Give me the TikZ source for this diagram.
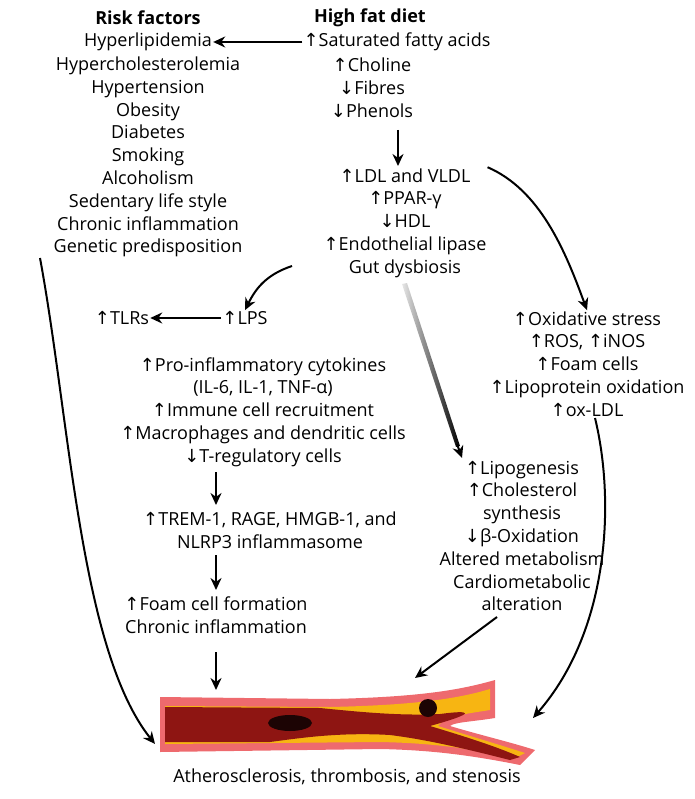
\documentclass[tikz,border=0pt]{standalone}
\usepackage{fontspec}
\setmainfont{Open Sans}
\newfontfamily\arrfont{DejaVu Sans}
\usetikzlibrary{arrows.meta,positioning}
\newcommand{\upa}{{\arrfont ↑}}
\newcommand{\dna}{{\arrfont ↓}}
\definecolor{wallpink}{HTML}{EE6A6E}
\definecolor{lumen}{HTML}{8E1512}
\definecolor{plaque}{HTML}{F7B512}
\tikzset{
  txt/.style={font=\fontsize{18}{22.8}\selectfont, align=center, inner sep=1pt},
  hd/.style={txt, font=\fontsize{18}{22.8}\selectfont\bfseries},
  arr/.style={-{Stealth[length=12pt,width=11pt]}, line width=2pt}
}
\begin{document}
\begin{tikzpicture}[x=1pt, y=-1pt]
\useasboundingbox (0,0) rectangle (694,799);
% artery
\fill[wallpink] (160,697) -- (330,699) .. controls (420,697) and (460,690) .. (495,680) -- (495,718)
  .. controls (470,722) and (455,722) .. (450,726) .. controls (480,735) and (510,742) .. (535,750)
  -- (520,765) .. controls (470,755) and (430,750) .. (380,749) -- (160,752) -- cycle;
\fill[plaque] (165,706) -- (330,707) .. controls (420,705) and (460,698) .. (490,689) -- (490,710)
  .. controls (465,714) and (445,716) .. (438,726) .. controls (470,736) and (500,745) .. (525,753)
  -- (515,758) .. controls (470,748) and (430,743) .. (380,742) -- (165,744) -- cycle;
\fill[lumen] (165,707) -- (320,708) .. controls (360,712) and (400,716) .. (440,714)
  .. controls (470,710) and (480,712) .. (430,726) .. controls (470,738) and (500,748) .. (520,757)
  -- (510,760) .. controls (470,750) and (430,740) .. (390,735) .. controls (340,732) and (300,738) .. (270,742)
  -- (165,742) -- cycle;
\fill[black!80!lumen] (290,723) ellipse (22pt and 8pt);
\fill[black!80!lumen] (428,708) circle (9pt);
% left column
\node[hd] (risk) at (148,18) {Risk factors};
\node[txt] (hyper) at (148,42) {Hyperlipidemia};
\node[txt] (riskrest) at (148,157) {Hypercholesterolemia\\Hypertension\\Obesity\\Diabetes\\Smoking\\Alcoholism\\Sedentary life style\\Chronic inflammation\\Genetic predisposition};
% diet
\node[hd] (diet) at (370,18) {High fat diet};
\node[txt] (sat) at (397,42) {\upa Saturated fatty acids};
\node[txt] (diet2) at (372,88) {\upa Choline\\\dna Fibres\\\dna Phenols};
\node[txt] (ldl) at (405,223) {\upa LDL and VLDL\\\upa PPAR-γ\\\dna HDL\\\upa Endothelial lipase\\Gut dysbiosis};
\node[txt] (lps) at (245,318) {\upa LPS};
\node[txt] (tlr) at (122,318) {\upa TLRs};
\node[txt] (ox) at (587,364) {\upa Oxidative stress\\\upa ROS, \upa iNOS\\\upa Foam cells\\\upa Lipoprotein oxidation\\\upa ox-LDL};
\node[txt] (cyto) at (263,412) {\upa Pro-inflammatory cytokines\\(IL-6, IL-1, TNF-α)\\\upa Immune cell recruitment\\\upa Macrophages and dendritic cells\\\dna T-regulatory cells};
\node[txt] (trem) at (270,530) {\upa TREM-1, RAGE, HMGB-1, and\\NLRP3 inflammasome};
\node[txt] (foam) at (216,615) {\upa Foam cell formation\\Chronic inflammation};
\node[txt] (lipo) at (522,536) {\upa Lipogenesis\\\upa Cholesterol\\synthesis\\\dna β-Oxidation\\Altered metabolism\\Cardiometabolic\\alteration};
\node[txt] (athero) at (347,777) {Atherosclerosis, thrombosis, and stenosis};
\coordinate (artleft) at (155,744);
\coordinate (artmid) at (216,690);
\coordinate (artup) at (415,678);
\coordinate (artright) at (533,718);
% arrows
\draw[arr] (sat.west) -- (hyper.east);
\draw[arr] (398,130) -- (398,166);
\draw[arr] (ldl.north east) .. controls (540,190) and (565,250) .. (ox.north);
\draw[arr] (292,266) .. controls (265,275) and (255,290) .. (lps.north);
\draw[arr] (lps.west) -- (tlr.east);
\shade[left color=gray!20, right color=black] (402,284) -- (407,283) -- (460,446) -- (456,447) -- cycle;
\draw[-{Stealth[length=12pt,width=11pt]}, line width=2pt] (457,444) -- (462,458);
\draw[arr] (216,472) -- (216,505);
\draw[arr] (216,555) -- (216,590);
\draw[arr] (216,652) -- (artmid);
\draw[arr] (497,617) -- (artup);
\draw[arr] (595,418) .. controls (615,500) and (610,630) .. (artright);
\draw[arr] (40,258) .. controls (70,420) and (80,650) .. (artleft);
\end{tikzpicture}
\end{document}
